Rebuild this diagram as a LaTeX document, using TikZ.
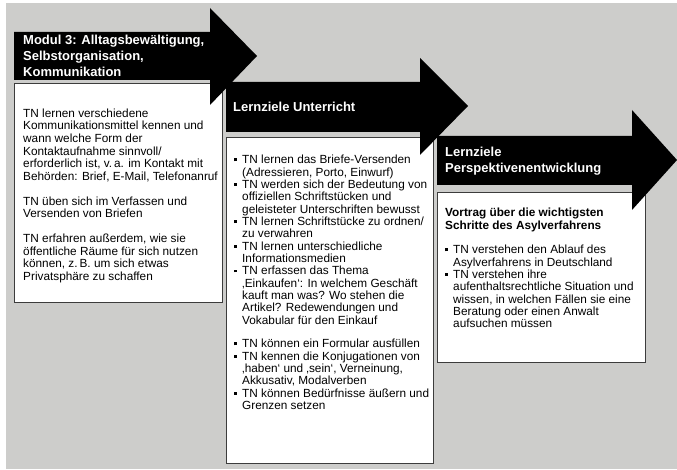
\documentclass[tikz,border=0pt]{standalone}
\usepackage{fontspec}
\setmainfont{Liberation Sans}
\definecolor{bgcol}{RGB}{205,205,203}
\definecolor{boxline}{RGB}{60,60,60}
\newcommand\mybul{\makebox[8pt][l]{\rule[2.5pt]{2.8pt}{2.8pt}}}
\newcommand\myind{\hspace*{8pt}}
\begin{document}
\begin{tikzpicture}[x=1pt,y=-1pt,
  whitebox/.style={fill=white,draw=boxline,line width=0.8pt},
  bigarrow/.style={fill=black,draw=none},
  ttl/.style={text=white,font=\bfseries\fontsize{13}{16}\selectfont,align=left,anchor=north west,inner sep=0pt},
  txt/.style={text=black,font=\fontsize{11.8}{12.35}\selectfont,align=left,anchor=north west,inner sep=0pt},
  atxt/.style={txt,font=\fontsize{11.8}{12.6}\selectfont},
  btxt/.style={txt,font=\bfseries\fontsize{11.8}{12.35}\selectfont}]
\useasboundingbox (0,0) rectangle (677,470);
\fill[bgcol] (6,3) rectangle (677,469);
% boxes
\draw[whitebox] (14,83) rectangle (222,302);
\draw[whitebox] (226,137) rectangle (433,463);
\draw[whitebox] (437,192) rectangle (645,362);
% arrows
\fill[bigarrow] (14,32) -- (210,32) -- (210,8) -- (257,56) -- (210,105) -- (210,80) -- (14,80) -- cycle;
\fill[bigarrow] (226,82) -- (420,82) -- (420,58) -- (468,106) -- (420,155) -- (420,132) -- (226,132) -- cycle;
\fill[bigarrow] (437,136) -- (632,136) -- (632,110) -- (677,160) -- (632,210) -- (632,185) -- (437,185) -- cycle;
% titles
\node[ttl] (t1) at (23,35) {Modul 3: Alltagsbewältigung,\\Selbstorganisation,\\Kommunikation};
\node[ttl] (t2) at (233,101.5) {Lernziele Unterricht};
\node[ttl] (t3) at (445,147) {Lernziele\\Perspektivenentwicklung};
% box 1
\node[atxt] (a1) at (23,108.5) {TN lernen verschiedene\\Kommunikationsmittel kennen und\\wann welche Form der\\Kontaktaufnahme sinnvoll/\\erforderlich ist, v.\,a. im Kontakt mit\\Behörden: Brief, E-Mail, Telefonanruf};
\node[atxt] (a2) at (23,196.5) {TN üben sich im Verfassen und\\Versenden von Briefen};
\node[atxt] (a3) at (23,234) {TN erfahren außerdem, wie sie\\öffentliche Räume für sich nutzen\\können, z.\,B. um sich etwas\\Privatsphäre zu schaffen};
% box 2
\node[txt] (b1) at (234,155) {\mybul TN lernen das Briefe-Versenden\\\myind (Adressieren, Porto, Einwurf)\\
\mybul TN werden sich der Bedeutung von\\\myind offiziellen Schriftstücken und\\\myind geleisteter Unterschriften bewusst\\
\mybul TN lernen Schriftstücke zu ordnen/\\\myind zu verwahren\\
\mybul TN lernen unterschiedliche\\\myind Informationsmedien\\
\mybul TN erfassen das Thema\\\myind ‚Einkaufen‘: In welchem Geschäft\\\myind kauft man was? Wo stehen die\\\myind Artikel? Redewendungen und\\\myind Vokabular für den Einkauf};
\node[txt] (b2) at (234,339) {\mybul TN können ein Formular ausfüllen\\
\mybul TN kennen die Konjugationen von\\\myind ‚haben‘ und ‚sein‘, Verneinung,\\\myind Akkusativ, Modalverben\\
\mybul TN können Bedürfnisse äußern und\\\myind Grenzen setzen};
% box 3
\node[btxt] (c1) at (445,208) {Vortrag über die wichtigsten\\Schritte des Asylverfahrens};
\node[txt] (c2) at (445,245) {\mybul TN verstehen den Ablauf des\\\myind Asylverfahrens in Deutschland\\
\mybul TN verstehen ihre\\\myind aufenthaltsrechtliche Situation und\\\myind wissen, in welchen Fällen sie eine\\\myind Beratung oder einen Anwalt\\\myind aufsuchen müssen};
\end{tikzpicture}
\end{document}
